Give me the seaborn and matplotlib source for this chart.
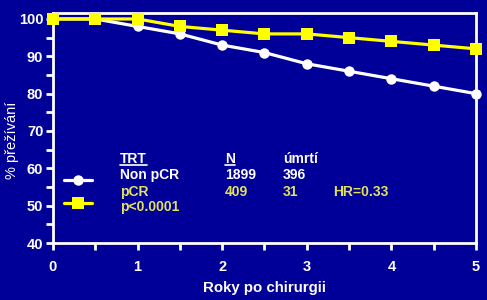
import matplotlib
matplotlib.use("Agg")
import matplotlib.pyplot as plt
from matplotlib.lines import Line2D
import seaborn as sns
import pandas as pd

years = [0, 0.5, 1, 1.5, 2, 2.5, 3, 3.5, 4, 4.5, 5]
non_pcr = [100, 100, 98, 96, 93, 91, 88, 86, 84, 82, 80]
pcr = [100, 100, 100, 98, 97, 96, 96, 95, 94, 93, 92]
groups = ["Non pCR", "pCR"]
x_ticks = [0, 1, 2, 3, 4, 5]
y_ticks = [40, 50, 60, 70, 80, 90, 100]

BG = "#000099"
WHITE = "#FFFFFF"
YELLOW = "#FFFF00"
YTEXT = "#E2E25A"

sns.set_theme(style="white")
plt.rcParams["font.family"] = ["Liberation Sans", "DejaVu Sans"]

df = pd.DataFrame({
    "years": years * 2,
    "surv": non_pcr + pcr,
    "group": [groups[0]] * len(years) + [groups[1]] * len(years),
})

fig = plt.figure(figsize=(4.87, 3.0), dpi=100, facecolor=BG)
ax = fig.add_axes([0.1088, 0.19, 0.8686, 0.7667])
ax.set_facecolor(BG)

sns.lineplot(data=df, x="years", y="surv", hue="group", style="group",
             palette={groups[0]: WHITE, groups[1]: YELLOW},
             markers={groups[0]: "o", groups[1]: "s"}, dashes=False,
             linewidth=2.3, markersize=8, markeredgewidth=0,
             ax=ax, legend=False)
for ln in ax.lines:
    ln.set_clip_on(False)
ax.lines[0].set_markersize(7.5)
ax.lines[1].set_markersize(8.5)
ax.lines[1].set_zorder(3)

ax.set_xlim(0, 5)
ax.set_ylim(40, 101.6)
ax.set_xticks(x_ticks)
ax.set_xticks([0.5, 1.5, 2.5, 3.5, 4.5], minor=True)
ax.set_yticks(y_ticks)
ax.set_yticks([45, 55, 65, 75, 85, 95], minor=True)
ax.set_xticklabels([str(t) for t in x_ticks], fontsize=10.5, fontweight="bold", color=WHITE)
ax.set_yticklabels([str(t) for t in y_ticks], fontsize=10.5, fontweight="bold", color=WHITE)
ax.tick_params(which="both", direction="out", length=5, width=2, color=WHITE,
               bottom=True, left=True)
ax.tick_params(axis="x", which="major", pad=7)
ax.tick_params(axis="y", which="major", pad=2)
for s in ax.spines.values():
    s.set_color(WHITE)
    s.set_linewidth(2)
    s.set_visible(True)

ax.set_xlabel("Roky po chirurgii", fontsize=10.8, fontweight="bold", color=WHITE, labelpad=5)
ax.set_ylabel("% přežívání", fontsize=10.5, color=WHITE)
ax.yaxis.set_label_coords(-0.097, 0.448)
ax.yaxis.label.set_va("center")

# legend markers
leg = ax.legend(handles=ax.lines[:2], labels=["", ""], loc="upper left",
                bbox_to_anchor=(0.0, 0.348), frameon=False, handlelength=2.0,
                labelspacing=0.65, fontsize=10, borderpad=0.3, handletextpad=0)

tk = dict(transform=ax.transAxes, fontsize=10, fontweight="bold", va="center", ha="left")
t_trt = ax.text(0.158, 0.365, "TRT", color=WHITE, **tk)
ax.text(0.158, 0.294, "Non pCR", color=WHITE, **tk)
ax.text(0.158, 0.222, "pCR", color=YTEXT, **tk)
ax.text(0.158, 0.155, "p<0.0001", color=YTEXT, **tk)
t_n = ax.text(0.407, 0.365, "N", color=WHITE, **tk)
ax.text(0.407, 0.294, "1899", color=WHITE, **tk)
ax.text(0.407, 0.222, "409", color=YTEXT, **tk)
ax.text(0.544, 0.365, "úmrtí", color=WHITE, **tk)
ax.text(0.544, 0.294, "396", color=WHITE, **tk)
ax.text(0.544, 0.222, "31", color=YTEXT, **tk)
ax.text(0.662, 0.222, "HR=0.33", color=YTEXT, **tk)

# underline TRT and N
fig.canvas.draw()
r = fig.canvas.get_renderer()
W, H = fig.bbox.width, fig.bbox.height
for t in (t_trt, t_n):
    bb = t.get_window_extent(r)
    yy = (bb.y0 + 1) / H
    fig.add_artist(Line2D([bb.x0 / W, bb.x1 / W], [yy, yy], color=WHITE, lw=1.2))

fig.savefig("out.png", dpi=100, facecolor=BG)
